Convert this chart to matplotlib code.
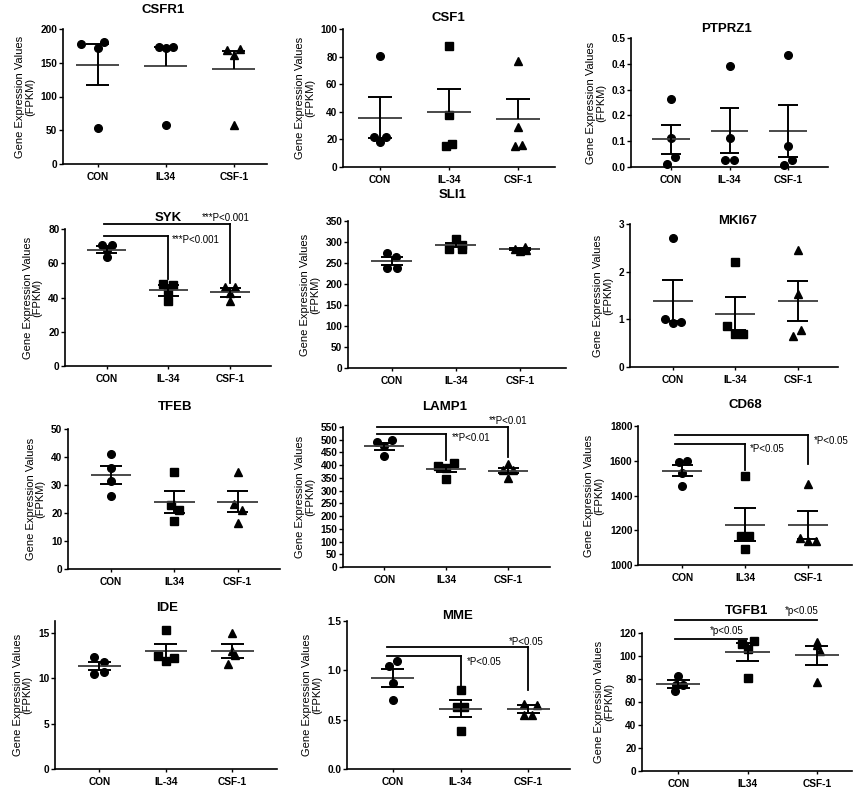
import numpy as np
from matplotlib import pyplot as plt

plt.rcParams['font.family'] = ['Liberation Sans', 'DejaVu Sans']

W, H = 856, 789

# ---- data (FPKM) ----
CSFR1_GROUPS = ["CON", "IL34", "CSF-1"]
CSFR1_PTS = [[178, 172, 180, 54], [174, 172, 174, 58], [169, 162, 171, 58]]
CSFR1_MEAN = [147, 145, 141]
CSFR1_SEM = [30.5, 28, 27]

CSF1_GROUPS = ["CON", "IL-34", "CSF-1"]
CSF1_PTS = [[22, 18, 22, 80.5], [15.3, 17, 88, 37.5], [15.3, 16.2, 29, 76.8]]
CSF1_MEAN = [35.8, 40, 34.6]
CSF1_SEM = [15, 16.7, 14.6]

PTPRZ1_GROUPS = ["CON", "IL-34", "CSF-1"]
PTPRZ1_PTS = [[0.013, 0.112, 0.040, 0.262], [0.026, 0.026, 0.112, 0.391],
              [0.006, 0.026, 0.081, 0.433]]
PTPRZ1_MEAN = [0.107, 0.14, 0.14]
PTPRZ1_SEM = [0.055, 0.087, 0.1]

SYK_GROUPS = ["CON", "IL-34", "CSF-1"]
SYK_PTS = [[70.8, 70.8, 67.5, 63.6], [47.8, 47.5, 43.5, 37.7], [46, 46, 42.5, 37.7]]
SYK_MEAN = [68, 44.1, 43.1]
SYK_SEM = [2.3, 3.4, 2.6]

SLI1_GROUPS = ["CON", "IL-34", "CSF-1"]
SLI1_PTS = [[275, 265, 239, 239], [306, 293, 283, 284], [288, 283, 279, 282]]
SLI1_MEAN = [254.6, 292, 283]
SLI1_SEM = [10, 5, 2]

MKI67_GROUPS = ["CON", "IL-34", "CSF-1"]
MKI67_PTS = [[1.0, 0.92, 0.94, 2.7], [0.85, 0.69, 0.69, 2.2], [0.64, 0.78, 1.54, 2.45]]
MKI67_MEAN = [1.39, 1.12, 1.38]
MKI67_SEM = [0.43, 0.35, 0.42]

TFEB_GROUPS = ["CON", "IL34", "CSF-1"]
TFEB_PTS = [[41, 36.2, 31.5, 26.2], [34.8, 22.9, 21.1, 17], [34.6, 23.2, 21.1, 16.4]]
TFEB_MEAN = [33.7, 23.9, 24.1]
TFEB_SEM = [3.2, 3.9, 3.9]

LAMP1_GROUPS = ["CON", "IL34", "CSF-1"]
LAMP1_PTS = [[490, 475, 497, 435], [397, 388, 410, 346], [404, 382, 382, 351]]
LAMP1_MEAN = [474, 385.5, 379]
LAMP1_SEM = [14.5, 13.5, 9.5]

CD68_GROUPS = ["CON", "IL34", "CSF-1"]
CD68_PTS = [[1593, 1599, 1532, 1456], [1511, 1169, 1169, 1090], [1469, 1155, 1141, 1141]]
CD68_MEAN = [1542, 1233, 1230]
CD68_SEM = [32, 94, 82]

IDE_GROUPS = ["CON", "IL-34", "CSF-1"]
IDE_PTS = [[12.3, 11.8, 10.5, 10.7], [15.26, 12.5, 11.9, 12.2], [15.0, 12.6, 13.0, 11.6]]
IDE_MEAN = [11.3, 13.0, 12.98]
IDE_SEM = [0.45, 0.8, 0.75]

MME_GROUPS = ["CON", "IL-34", "CSF-1"]
MME_PTS = [[1.044, 1.095, 0.871, 0.695], [0.803, 0.627, 0.627, 0.39],
           [0.66, 0.645, 0.55, 0.55]]
MME_MEAN = [0.925, 0.61, 0.605]
MME_SEM = [0.092, 0.085, 0.04]

TGFB1_GROUPS = ["CON", "IL34", "CSF-1"]
TGFB1_PTS = [[83, 74.5, 75, 70], [110.7, 113, 106, 80.7], [112, 109.8, 104, 77.2]]
TGFB1_MEAN = [75.7, 103.5, 100.5]
TGFB1_SEM = [3.5, 8, 8]

# ---- layout ----
OMS = ["o", "s", "^"]
panels = [
    dict(name="CSFR1", groups=CSFR1_GROUPS, pts=CSFR1_PTS, mean=CSFR1_MEAN, sem=CSFR1_SEM,
         lower=[True, False, False], markers=["o", "o", "^"],
         offs=[[-0.24, 0, 0.1, 0], [-0.1, 0, 0.1, 0], [-0.1, 0, 0.09, 0]],
         box=(63, 267, 29, 164), con=97.7, unit=68, ylim=(0, 200),
         yticks=np.arange(0, 201, 50), fmt="%d", title=(163, 10), brackets=[]),
    dict(name="CSF1", groups=CSF1_GROUPS, pts=CSF1_PTS, mean=CSF1_MEAN, sem=CSF1_SEM,
         lower=[True, False, False], markers=OMS,
         offs=[[-0.08, 0, 0.09, 0], [-0.05, 0.04, 0, 0], [-0.05, 0.06, 0, 0]],
         box=(343, 555, 29, 167), con=380, unit=69, ylim=(0, 100),
         yticks=np.arange(0, 101, 20), fmt="%d", title=(448, 18), brackets=[]),
    dict(name="PTPRZ1", groups=PTPRZ1_GROUPS, pts=PTPRZ1_PTS, mean=PTPRZ1_MEAN, sem=PTPRZ1_SEM,
         lower=[True, True, True], markers=["o", "o", "o"],
         offs=[[-0.06, 0, 0.07, 0], [-0.07, 0.07, 0, 0], [-0.06, 0.06, 0, 0]],
         box=(631, 828, 38, 167), con=671, unit=58.5, ylim=(0, 0.5),
         yticks=np.arange(0, 0.51, 0.1), fmt="%.1f", title=(727, 29), brackets=[]),
    dict(name="SYK", groups=SYK_GROUPS, pts=SYK_PTS, mean=SYK_MEAN, sem=SYK_SEM,
         lower=[True, True, True], markers=OMS,
         offs=[[-0.08, 0.09, 0, 0], [-0.08, 0.08, 0, 0], [-0.08, 0.08, 0, 0]],
         box=(65, 271, 229, 366), con=106.7, unit=61.7, ylim=(0, 80),
         yticks=np.arange(0, 81, 20), fmt="%d", title=(168, 218),
         brackets=[(-0.05, 1, 75.7, 51, "***P<0.001", 1.05, 73.8, "left"),
                   (-0.05, 2, 83, 48.4, "***P<0.001", 1.54, 86.4, "left")]),
    dict(name="SLI1", groups=SLI1_GROUPS, pts=SLI1_PTS, mean=SLI1_MEAN, sem=SLI1_SEM,
         lower=[True, True, True], markers=OMS,
         offs=[[-0.08, 0.07, -0.07, 0.08], [0, 0.1, -0.1, 0.1], [0.08, -0.08, 0, 0.1]],
         box=(348, 566, 221, 368), con=391.7, unit=64, ylim=(0, 350),
         yticks=np.arange(0, 351, 50), fmt="%d", title=(453, 195), brackets=[]),
    dict(name="MKI67", groups=MKI67_GROUPS, pts=MKI67_PTS, mean=MKI67_MEAN, sem=MKI67_SEM,
         lower=[True, True, True], markers=OMS,
         offs=[[-0.12, 0, 0.13, 0], [-0.13, 0, 0.13, 0], [-0.07, 0.06, 0, 0]],
         box=(630, 838, 224, 367), con=672.7, unit=62.5, ylim=(0, 3),
         yticks=np.arange(0, 4), fmt="%d", title=(738, 221), brackets=[]),
    dict(name="TFEB", groups=TFEB_GROUPS, pts=TFEB_PTS, mean=TFEB_MEAN, sem=TFEB_SEM,
         lower=[True, True, True], markers=OMS,
         offs=[[0, 0, 0, 0], [0, -0.05, 0.07, 0], [0, -0.05, 0.07, 0]],
         box=(68, 280, 429, 569), con=111, unit=63.3, ylim=(0, 50),
         yticks=np.arange(0, 51, 10), fmt="%d", title=(175, 407), brackets=[]),
    dict(name="LAMP1", groups=LAMP1_GROUPS, pts=LAMP1_PTS, mean=LAMP1_MEAN, sem=LAMP1_SEM,
         lower=[True, True, True], markers=OMS,
         offs=[[-0.12, 0, 0.13, 0], [-0.13, 0, 0.12, 0], [0, -0.08, 0.07, 0]],
         box=(343, 550, 427, 567), con=384.3, unit=62, ylim=(0, 550),
         yticks=np.arange(0, 551, 50), fmt="%d", title=(445, 407),
         brackets=[(-0.12, 1, 523.7, 421, "**P<0.01", 1.09, 507, "left"),
                   (-0.12, 2, 548.7, 434, "**P<0.01", 1.68, 574, "left")]),
    dict(name="CD68", groups=CD68_GROUPS, pts=CD68_PTS, mean=CD68_MEAN, sem=CD68_SEM,
         lower=[True, True, True], markers=OMS,
         offs=[[-0.06, 0.07, 0, 0], [0, -0.07, 0.07, 0], [0, -0.12, 0, 0.14]],
         box=(638, 852, 426, 565), con=682.3, unit=62.7, ylim=(1000, 1800),
         yticks=np.arange(1000, 1801, 200), fmt="%d", title=(745, 405),
         brackets=[(-0.12, 1, 1695, 1545, "*P<0.05", 1.08, 1670, "left"),
                   (-0.12, 2, 1746, 1580, "*P<0.05", 2.09, 1714, "left")]),
    dict(name="IDE", groups=IDE_GROUPS, pts=IDE_PTS, mean=IDE_MEAN, sem=IDE_SEM,
         lower=[True, True, True], markers=OMS,
         offs=[[-0.08, 0.07, -0.08, 0.07], [0, -0.11, 0, 0.12], [0, 0.04, 0, -0.06]],
         box=(55, 277, 621, 769), con=99.3, unit=66.5, ylim=(0, 16.3),
         yticks=np.arange(0, 16, 5), fmt="%d", title=(167, 608), brackets=[]),
    dict(name="MME", groups=MME_GROUPS, pts=MME_PTS, mean=MME_MEAN, sem=MME_SEM,
         lower=[True, True, True], markers=OMS,
         offs=[[-0.06, 0.06, 0, 0], [0, -0.05, 0.05, 0], [-0.07, 0.13, -0.07, 0.06]],
         box=(347, 570, 621, 769), con=392.7, unit=67.8, ylim=(0, 1.5),
         yticks=np.arange(0, 1.51, 0.5), fmt="%.1f", title=(458, 616),
         brackets=[(-0.08, 1, 1.15, 0.83, "*P<0.05", 1.09, 1.08, "left"),
                   (-0.08, 2, 1.236, 0.797, "*P<0.05", 1.71, 1.29, "left")]),
    dict(name="TGFB1", groups=TGFB1_GROUPS, pts=TGFB1_PTS, mean=TGFB1_MEAN, sem=TGFB1_SEM,
         lower=[True, True, True], markers=OMS,
         offs=[[0, 0.07, -0.04, -0.05], [-0.08, 0.1, 0, 0], [0, 0, 0.05, 0]],
         box=(642, 852, 633, 771), con=678.3, unit=69.2, ylim=(0, 120),
         yticks=np.arange(0, 121, 20), fmt="%d", title=(747, 611),
         brackets=[(-0.05, 0.99, 114.5, None, "*p<0.05", 0.7, 122, "center"),
                   (-0.05, 2, 131, None, "*p<0.05", 1.79, 139, "center")]),
]


def draw(fig, p):
    l, r, t, b = p["box"]
    ax = fig.add_axes([l / W, 1 - b / H, (r - l) / W, (b - t) / H])
    con, unit = p["con"], p["unit"]
    ax.set_xlim((l - con) / unit, (r - con) / unit)
    ax.set_ylim(*p["ylim"])

    for i in range(3):
        pts = np.array(p["pts"][i])
        x = i + np.array(p["offs"][i])
        m, s = p["mean"][i], p["sem"][i]
        ax.plot(x, pts, ls="none", marker=p["markers"][i], ms=5.5,
                color="black", clip_on=False, zorder=3)
        ax.hlines(m, i - 0.32, i + 0.32, color="#3c3c3c", lw=1.3, zorder=4)
        lo = m - s if p["lower"][i] else m
        ax.vlines(i, lo, m + s, color="black", lw=1.4, zorder=4)
        ax.hlines(m + s, i - 0.17, i + 0.17, color="black", lw=1.4, zorder=4)
        if p["lower"][i]:
            ax.hlines(m - s, i - 0.17, i + 0.17, color="black", lw=1.4, zorder=4)

    for x0, x1, y, ydrop, label, tx, ty, ha in p["brackets"]:
        ax.plot([x0, x1], [y, y], color="black", lw=1.3, clip_on=False)
        if ydrop is not None:
            ax.plot([x1, x1], [y, ydrop], color="black", lw=1.3, clip_on=False)
        ax.text(tx, ty, label, ha=ha, va="center", fontsize=7, clip_on=False)

    for side in ("top", "right"):
        ax.spines[side].set_visible(False)
    for side in ("left", "bottom"):
        ax.spines[side].set_linewidth(1.2)
    ax.set_xticks(range(3))
    ax.set_xticklabels(p["groups"], fontsize=7.3, fontweight="bold")
    ax.set_yticks(p["yticks"])
    ax.set_yticklabels([p["fmt"] % v for v in p["yticks"]], fontsize=7.3, fontweight="bold")
    ax.tick_params(axis="y", length=3, width=1, pad=1)
    ax.tick_params(axis="x", length=2, width=1, pad=4)
    ax.set_ylabel("Gene Expression Values\n(FPKM)", fontsize=8, linespacing=1.0, labelpad=4)

    tx, ty = p["title"]
    fig.text(tx / W, 1 - ty / H, p["name"], ha="center", va="center",
             fontsize=9.5, fontweight="bold")


fig = plt.figure(figsize=(W / 100, H / 100), dpi=100)
for p in panels:
    draw(fig, p)
fig.savefig("out.png", dpi=100)
